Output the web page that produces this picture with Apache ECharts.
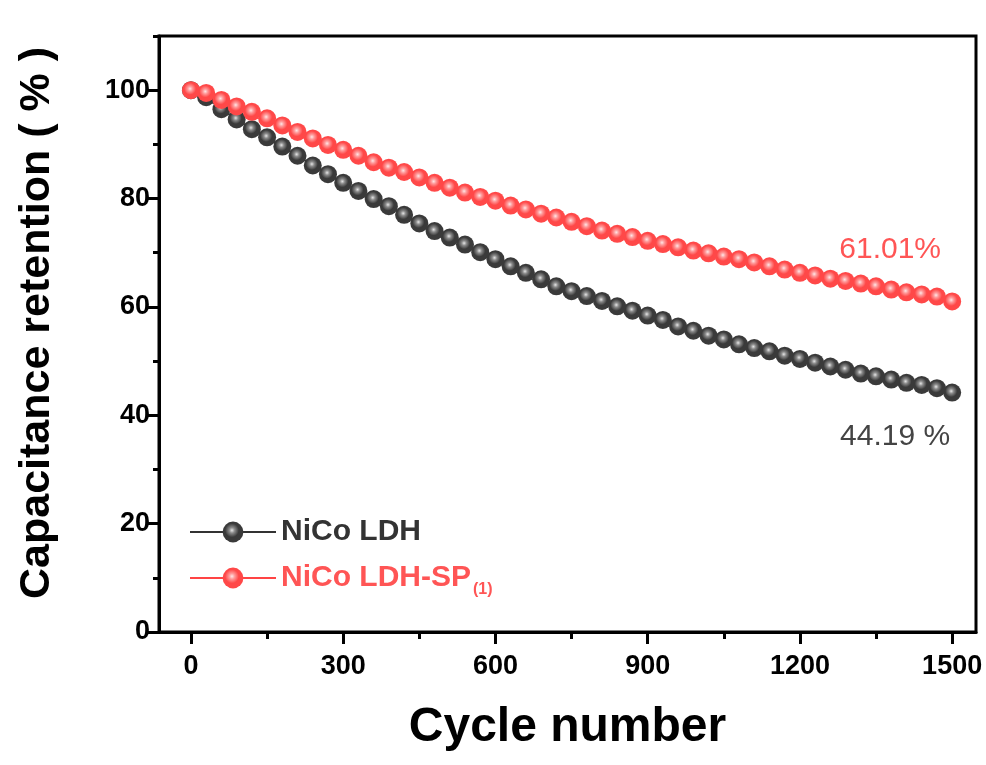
<!DOCTYPE html>
<html>
<head>
<meta charset="utf-8">
<script src="https://cdn.jsdelivr.net/npm/echarts@6/dist/echarts.min.js"></script>
<style>
    html, body { margin: 0; padding: 0; background: #fff; }
    #chart { width: 986px; height: 765px; }
</style>
</head>
<body>
<div id="chart"></div>
<script>
// cycle numbers, every 30 cycles
const cycles = [
    0, 30, 60, 90, 120, 150, 180, 210, 240, 270,
    300, 330, 360, 390, 420, 450, 480, 510, 540, 570,
    600, 630, 660, 690, 720, 750, 780, 810, 840, 870,
    900, 930, 960, 990, 1020, 1050, 1080, 1110, 1140, 1170,
    1200, 1230, 1260, 1290, 1320, 1350, 1380, 1410, 1440, 1470,
    1500,
];
/** NiCo LDH */
const ldh = [
    100, 98.7, 96.5, 94.6, 92.8, 91.3, 89.6, 87.9, 86.1, 84.5,
    82.9, 81.4, 79.9, 78.6, 77.0, 75.4, 74.0, 72.8, 71.5, 70.1,
    68.8, 67.5, 66.3, 65.1, 63.8, 62.9, 62.0, 61.1, 60.1, 59.3,
    58.4, 57.6, 56.4, 55.6, 54.7, 54.0, 53.1, 52.4, 51.8, 51.0,
    50.4, 49.7, 49.0, 48.4, 47.7, 47.2, 46.6, 46.0, 45.6, 45.0,
    44.19,
];
/** NiCo LDH-SP(1) */
const ldhSp = [
    100, 99.5, 98.2, 97.0, 96.0, 94.8, 93.5, 92.3, 91.1, 89.9,
    89.0, 87.9, 86.7, 85.7, 84.9, 83.9, 82.9, 82.0, 81.1, 80.3,
    79.6, 78.7, 78.0, 77.2, 76.5, 75.7, 74.9, 74.1, 73.5, 72.9,
    72.2, 71.6, 71.0, 70.4, 69.9, 69.3, 68.8, 68.2, 67.5, 66.9,
    66.3, 65.8, 65.2, 64.8, 64.3, 63.8, 63.2, 62.7, 62.3, 61.9,
    61.01,
];
const xMajor = [0, 300, 600, 900, 1200, 1500];
const xMinor = [150, 450, 750, 1050, 1350];
const yMajor = [0, 20, 40, 60, 80, 100];
const yMinor = [10, 30, 50, 70, 90, 110];
const names = ["NiCo LDH", "NiCo LDH-SP(1)"];
const endNotes = ["44.19 %", "61.01%"];

const BLACK = "#3a3a3a";
const RED = "#ff4848";
const font = "'Liberation Sans', Arial, sans-serif";

const ball = (light, mid, body) => ({
    type: "radial",
    x: 0.45,
    y: 0.42,
    r: 0.6,
    colorStops: [
        { offset: 0, color: light },
        { offset: 0.22, color: mid },
        { offset: 0.55, color: body },
        { offset: 1, color: body },
    ],
});

const makeData = (values, note, color, pos, offset) => values.map((v, i) => {
    if (i !== values.length - 1) return [cycles[i], v];
    return {
        value: [cycles[i], v],
        label: {
            show: true,
            formatter: note,
            position: pos,
            distance: 0,
            offset: offset,
            color: color,
            fontFamily: font,
            fontSize: 30,
        },
    };
});

const tickLine = { color: "#000", width: 3 };
const baseX = {
    type: "value",
    min: -63,
    max: 1547,
    splitLine: { show: false },
};
const baseY = {
    type: "value",
    min: 0,
    max: 110,
    splitLine: { show: false },
};
const tickLabel = {
    fontFamily: font,
    fontWeight: "bold",
    fontSize: 27,
    color: "#000",
    formatter: v => String(v),
};

const chart = echarts.init(document.getElementById("chart"));
chart.setOption({
    animation: false,
    grid: {
        left: 159,
        right: 10,
        top: 36,
        bottom: 133,
        show: true,
        borderColor: "#000",
        borderWidth: 3,
    },
    xAxis: [
        {
            ...baseX,
            name: "Cycle number",
            nameLocation: "middle",
            nameGap: 72,
            nameTextStyle: { fontFamily: font, fontWeight: "bold", fontSize: 48, color: "#000" },
            axisLine: { show: true, onZero: false, lineStyle: tickLine },
            axisTick: { show: true, length: 12, customValues: xMajor, lineStyle: tickLine },
            axisLabel: { ...tickLabel, customValues: xMajor, margin: 21 },
        },
        {
            ...baseX,
            position: "bottom",
            axisLine: { show: false, onZero: false },
            axisTick: { show: true, length: 7, customValues: xMinor, lineStyle: tickLine },
            axisLabel: { show: false },
        },
    ],
    yAxis: [
        {
            ...baseY,
            name: "Capacitance retention ( % )",
            nameLocation: "middle",
            nameGap: 100,
            nameTextStyle: {
                fontFamily: font, fontWeight: "bold", fontSize: 43, color: "#000",
                padding: [0, 0, 0, 22],
            },
            axisLine: { show: true, onZero: false, lineStyle: tickLine },
            axisTick: { show: true, length: 11, customValues: yMajor, lineStyle: tickLine },
            axisLabel: { ...tickLabel, customValues: yMajor, margin: 9 },
        },
        {
            ...baseY,
            position: "left",
            axisLine: { show: false, onZero: false },
            axisTick: { show: true, length: 6, customValues: yMinor, lineStyle: tickLine },
            axisLabel: { show: false },
        },
    ],
    legend: [
        {
            data: [{ name: names[0], textStyle: { color: "#333" } }],
            left: 189,
            top: 511,
            padding: 0,
            itemWidth: 86,
            itemHeight: 26,
            textStyle: { fontFamily: font, fontWeight: "bold", fontSize: 30, lineHeight: 42 },
        },
        {
            data: [{ name: names[1], textStyle: { color: "#f55" } }],
            left: 189,
            top: 557,
            padding: 0,
            itemWidth: 86,
            itemHeight: 26,
            formatter: () => "NiCo LDH-SP{sub|(1)}",
            textStyle: {
                fontFamily: font,
                fontWeight: "bold",
                fontSize: 30,
                lineHeight: 42,
                rich: {
                    sub: {
                        fontFamily: font,
                        fontWeight: "bold",
                        fontSize: 16,
                        color: "#f55",
                        padding: [24, 0, 0, 2],
                    },
                },
            },
        },
    ],
    series: [
        {
            name: names[0],
            type: "line",
            z: 2,
            symbol: "circle",
            symbolSize: 18,
            showAllSymbol: true,
            lineStyle: { color: "#333", width: 2 },
            itemStyle: { color: ball("#e6e6e6", "#8a8a8a", BLACK) },
            data: makeData(ldh, endNotes[0], "#444", "bottom", [-57, 20]),
        },
        {
            name: names[1],
            type: "line",
            z: 3,
            symbol: "circle",
            symbolSize: 18,
            showAllSymbol: true,
            lineStyle: { color: "#ff4444", width: 2 },
            itemStyle: { color: ball("#ffe6e6", "#ff9a9a", RED) },
            data: makeData(ldhSp, endNotes[1], "#f55", "top", [-62, -28]),
        },
    ],
});
</script>
</body>
</html>
